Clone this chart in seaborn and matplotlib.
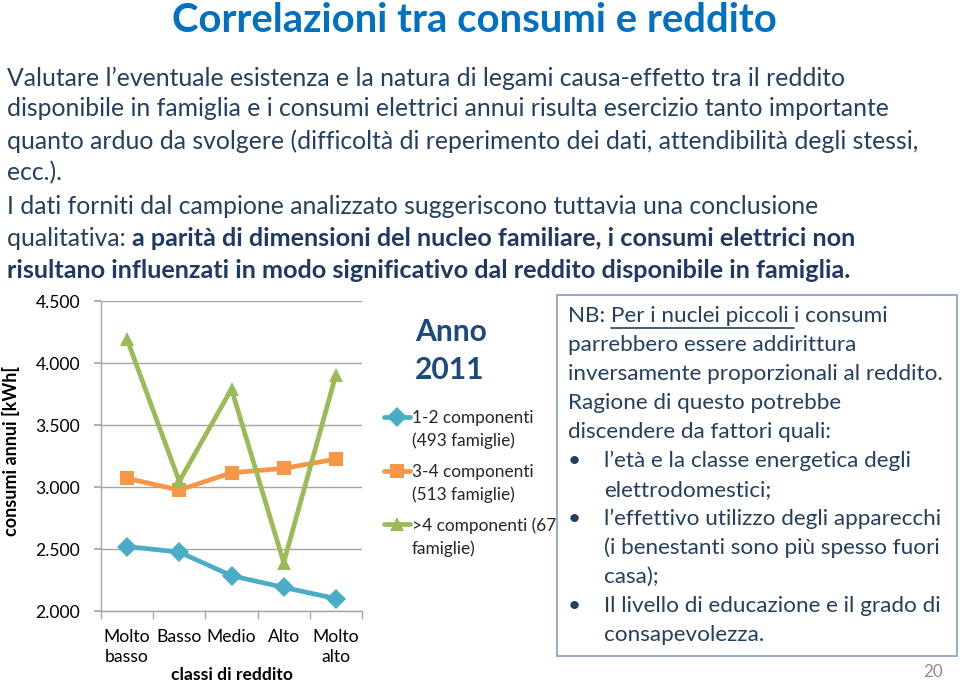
import matplotlib
matplotlib.use("Agg")
import matplotlib.pyplot as plt
import seaborn as sns
import pandas as pd
import numpy as np
from matplotlib.ticker import FuncFormatter, FixedLocator
from matplotlib.patches import Rectangle
from matplotlib.lines import Line2D

# ---------------- data ----------------
classi = ["Molto\nbasso", "Basso", "Medio", "Alto", "Molto\nalto"]
serie = ["1-2 componenti\n(493 famiglie)", "3-4 componenti\n(513 famiglie)", ">4 componenti (67\nfamiglie)"]
consumi_1_2 = [2520, 2475, 2285, 2190, 2100]
consumi_3_4 = [3070, 2975, 3115, 3150, 3225]
consumi_4p = [4190, 3045, 3790, 2390, 3905]
y_ticks = [2000, 2500, 3000, 3500, 4000, 4500]

title = "Correlazioni tra consumi e reddito"
body_lines = [
    "Valutare l\u2019eventuale esistenza e la natura di legami causa-effetto tra il reddito",
    "disponibile in famiglia e i consumi elettrici annui risulta esercizio tanto importante",
    "quanto arduo da svolgere (difficolt\u00e0 di reperimento dei dati, attendibilit\u00e0 degli stessi,",
    "ecc.).",
    "I dati forniti dal campione analizzato suggeriscono tuttavia una conclusione",
]
body_q_normal = "qualitativa: "
body_q_bold = "a parit\u00e0 di dimensioni del nucleo familiare, i consumi elettrici non"
body_last_bold = "risultano influenzati in modo significativo dal reddito disponibile in famiglia."

nb_first = ("NB: ", "Per i nuclei piccoli ", "i consumi")
nb_lines = ["parrebbero essere addirittura",
            "inversamente proporzionali al reddito.",
            "Ragione di questo potrebbe",
            "discendere da fattori quali:"]
nb_bullets = [["l\u2019et\u00e0 e la classe energetica degli", "elettrodomestici;"],
              ["l\u2019effettivo utilizzo degli apparecchi", "(i benestanti sono pi\u00f9 spesso fuori", "casa);"],
              ["Il livello di educazione e il grado di", "consapevolezza."]]

df = pd.DataFrame({
    "classe": classi * 3,
    "consumo": consumi_1_2 + consumi_3_4 + consumi_4p,
    "serie": [serie[0]] * 5 + [serie[1]] * 5 + [serie[2]] * 5,
})

# ---------------- figure ----------------
sns.set_theme(style="white")
FONT = "Lato"
plt.rcParams["font.family"] = [FONT, "DejaVu Sans"]

W, H = 960, 682
fig = plt.figure(figsize=(W / 100, H / 100), dpi=100)
ov = fig.add_axes([0, 0, 1, 1], zorder=0)
ov.set_xlim(0, W)
ov.set_ylim(H, 0)
ov.axis("off")

def px(pt_px):
    return pt_px * 0.72

TXT = "#243F60"
BOLD = "#1F3864"
BODY = px(24.8)
BODYB = px(25.3)

ov.text(474, 21, title, ha="center", va="center", fontsize=px(40), fontweight="bold", color="#0070C0")

body_y = [78, 109, 141, 173, 207]
for yy, line in zip(body_y, body_lines):
    ov.text(7, yy, line, ha="left", va="center", fontsize=BODY, color=TXT)
t_q = ov.text(7, 239, body_q_normal, ha="left", va="center", fontsize=BODY, color=TXT)
ov.text(7, 271, body_last_bold, ha="left", va="center", fontsize=BODYB, fontweight="bold", color=BOLD)

# ---------------- chart ----------------
ax_l, ax_r, ax_t, ax_b = 101, 362, 301, 611
ax = fig.add_axes([ax_l / W, (H - ax_b) / H, (ax_r - ax_l) / W, (ax_b - ax_t) / H], zorder=2)
ax.patch.set_alpha(0)
palette = ["#4BACC6", "#F79646", "#9BBB59"]
sns.lineplot(data=df, x="classe", y="consumo", hue="serie", style="serie",
             markers=["D", "s", "^"], dashes=False, palette=palette, sort=False,
             linewidth=3.4, markersize=10.5, markeredgewidth=0, ax=ax)
ax.set_xlim(-0.5, 4.5)
ax.set_ylim(2000, 4500)
ax.yaxis.set_major_locator(FixedLocator(y_ticks))
ax.yaxis.set_major_formatter(FuncFormatter(lambda v, p: f"{int(v):,}".replace(",", ".")))
ax.grid(axis="y", color="#A6A6A6", linewidth=1)
ax.grid(axis="x", visible=False)
for s in ["top", "right"]:
    ax.spines[s].set_visible(False)
for s in ["left", "bottom"]:
    ax.spines[s].set_color("#A6A6A6")
    ax.spines[s].set_linewidth(1)
TICKFS = px(17.5)
ax.set_xticks(range(len(classi)))
ax.set_xticklabels(classi, fontsize=TICKFS, color="black", linespacing=1.3)
ax.set_xticks([i - 0.5 for i in range(len(classi) + 1)], minor=True)
ax.tick_params(axis="x", which="major", length=0, pad=13)
ax.tick_params(axis="x", which="minor", length=6, color="#A6A6A6", direction="out", bottom=True)
ax.tick_params(axis="y", length=5, color="#A6A6A6", direction="out", left=True, labelsize=TICKFS,
               labelcolor="black", pad=10)
ax.set_xlabel("")
ax.set_ylabel("")

LEGFS = px(17.2)
handles, labels = ax.get_legend_handles_labels()
leg = ax.legend(handles, labels, loc="upper left", bbox_to_anchor=(384 / W, (H - 410) / H),
                bbox_transform=fig.transFigure, frameon=False, fontsize=LEGFS, handlelength=1.5,
                handletextpad=0.1, labelspacing=0.85, borderaxespad=0, borderpad=0)
for t in leg.get_texts():
    t.set_linespacing(1.48)

ov.text(11, 451, "consumi annui [kWh[", rotation=90, ha="center", va="center",
        fontsize=px(18), fontweight="bold", color="black")
ov.text(232, 675, "classi di reddito", ha="center", va="center", fontsize=px(17.5), fontweight="bold", color="black")

ov.text(415, 332, "Anno", ha="left", va="center", fontsize=px(30), fontweight="bold", color="#1F497D")
ov.text(415, 370, "2011", ha="left", va="center", fontsize=px(30), fontweight="bold", color="#1F497D")

# ---------------- NB box ----------------
ov.add_patch(Rectangle((557, 295), 400, 361, facecolor="white", edgecolor="#8DA5C4", linewidth=1.3, zorder=3))
NBFS = px(22.5)
x0 = 568
t1 = ov.text(x0, 316, nb_first[0], ha="left", va="center", fontsize=NBFS, color=TXT, zorder=4)
fig.canvas.draw()
r = fig.canvas.get_renderer()

# align each legend handle with the first line of its (two-line) label
try:
    one = ov.text(0, 0, "1-2 componenti", fontsize=LEGFS)
    h1 = one.get_window_extent(r).height
    one.remove()
    for col in leg._legend_handle_box.get_children():
        for item in col.get_children():
            kids = item.get_children()
            da, ta = kids[0], kids[1]
            if hasattr(ta, "_multilinebaseline"):
                ta._multilinebaseline = False
            h2 = ta._text.get_window_extent(r).height
            shift_pt = (h2 - h1) * 72.0 / fig.dpi
            for art in da.get_children():
                if isinstance(art, Line2D):
                    art.set_ydata(np.asarray(art.get_ydata(), dtype=float) + shift_pt)
except Exception:
    pass

bb = t1.get_window_extent(r)
x1 = x0 + bb.width
t2 = ov.text(x1, 316, nb_first[1], ha="left", va="center", fontsize=NBFS, color=TXT, zorder=4)
bb2 = t2.get_window_extent(r)
x2 = x1 + bb2.width
ov.add_line(Line2D([x1, x2], [327.5, 327.5], color=TXT, linewidth=1.2, zorder=4))
ov.text(x2, 316, nb_first[2], ha="left", va="center", fontsize=NBFS, color=TXT, zorder=4)

yy = 345
for line in nb_lines:
    ov.text(x0, yy, line, ha="left", va="center", fontsize=NBFS, color=TXT, zorder=4)
    yy += 29
for group in nb_bullets:
    ov.text(574, yy, "\u2022", ha="center", va="center", fontsize=NBFS, color=TXT, zorder=4)
    for line in group:
        ov.text(604, yy, line, ha="left", va="center", fontsize=NBFS, color=TXT, zorder=4)
        yy += 29

ov.text(933, 672, "20", ha="center", va="center", fontsize=px(17), color="#8C8C8C")

# bold part after "qualitativa: "
bbq = t_q.get_window_extent(r)
ov.text(7 + bbq.width, 239, body_q_bold, ha="left", va="center", fontsize=BODYB, fontweight="bold", color=BOLD)

fig.savefig("out.png", dpi=100)
